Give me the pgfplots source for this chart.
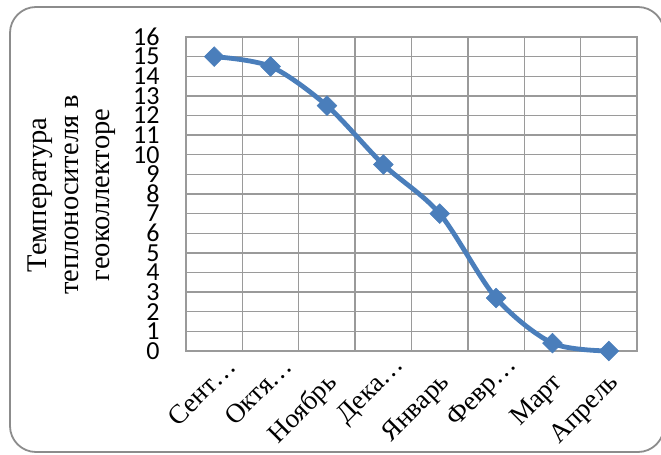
\documentclass[border=0pt]{standalone}
\usepackage{fontspec}
\setmainfont{Liberation Serif}
\newfontfamily\carlito{Carlito}
\usepackage{pgfplots}
\pgfplotsset{compat=1.18}
\definecolor{lineblue}{HTML}{4A7EBB}
\definecolor{gridgray}{HTML}{9A9A9A}
\definecolor{framegray}{HTML}{8C8C8C}
\newcommand{\trunc}[1]{\raisebox{5bp}[\height][\depth]{#1}\kern-20bp}
\begin{document}
\begin{tikzpicture}
\useasboundingbox (0bp,0bp) rectangle (661bp,455bp);
\draw[framegray, line width=1.8bp, rounded corners=26bp] (10bp,3bp) rectangle (664bp,448bp);
\node[rotate=90, align=center, font=\fontsize{28.5bp}{31.5bp}\selectfont] at (72bp,260bp) {Температура\\теплоносителя в\\геоколлекторе};
\begin{axis}[at={(186bp,104bp)}, anchor=south west, scale only axis,
  width=451bp, height=314bp,
  xmin=0.5, xmax=8.5, ymin=0, ymax=16,
  xtick={1,...,8},
  xticklabels={{\trunc{Сент…}},{\trunc{Октя…}},Ноябрь,{\trunc{Дека…}},Январь,{\trunc{Февр…}},Март,Апрель},
  minor xtick={0.5,1.5,...,8.5},
  ytick={0,1,...,16},
  major tick length=0pt, minor tick length=0pt,
  xmajorgrids=false, ymajorgrids=true, xminorgrids=true,
  grid style={gridgray, line width=1.3bp},
  minor grid style={gridgray, line width=1.3bp},
  axis line style={gridgray, line width=1.3bp},
  /pgf/number format/assume math mode=true,
  yticklabel style={font=\carlito\fontsize{26bp}{26bp}\selectfont, xshift=-23bp},
  xticklabel style={font=\fontsize{27bp}{27bp}\selectfont, xshift=9bp, yshift=-26bp, rotate=45, anchor=east},
  clip=false,
]
\addplot[lineblue, line width=4.8bp, smooth, mark=square*, mark size=7bp,
  mark options={rotate=45, fill=lineblue, draw=lineblue, line width=0.5bp}]
  coordinates {(1,15) (2,14.5) (3,12.5) (4,9.5) (5,7) (6,2.7) (7,0.4) (8,0)};
\end{axis}
\end{tikzpicture}
\end{document}
